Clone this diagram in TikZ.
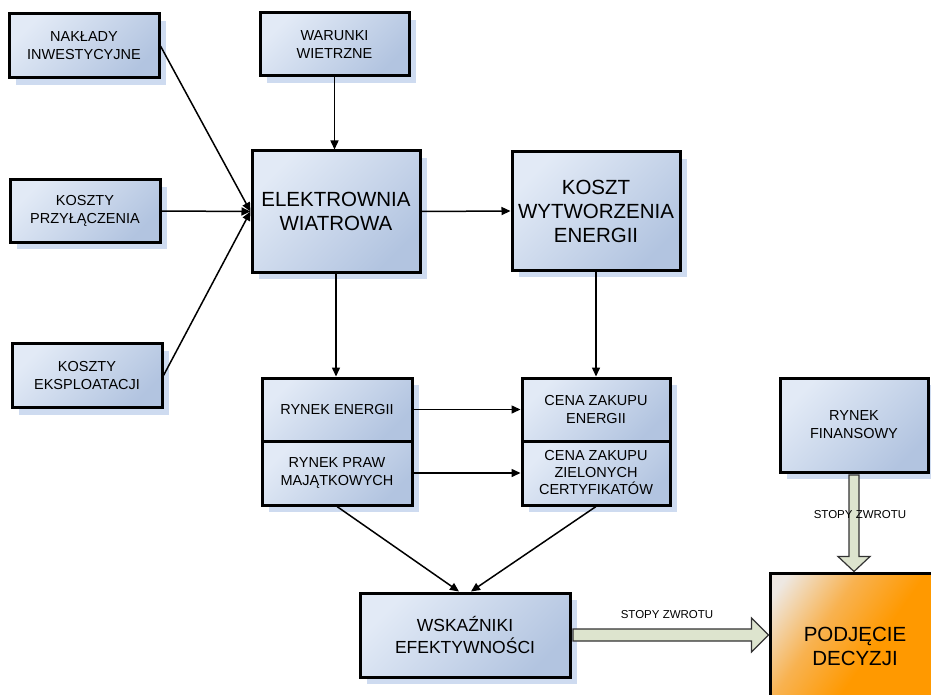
\documentclass[tikz,border=0pt]{standalone}
\usepackage{fontspec}
\setmainfont{Liberation Sans}
\usetikzlibrary{arrows.meta,shadows,calc}
\definecolor{boxlight}{RGB}{226,234,246}
\definecolor{boxdark}{RGB}{178,196,224}
\definecolor{shadowblue}{RGB}{206,219,240}
\definecolor{fatfill}{RGB}{221,228,206}
\definecolor{orangedark}{RGB}{255,153,0}
\definecolor{orangemid}{RGB}{248,178,80}
\definecolor{orangelight}{RGB}{238,232,226}
\pgfdeclareverticalshading{orangeshade}{100bp}{color(0bp)=(orangedark); color(45bp)=(orangedark); color(62bp)=(orangemid); color(80bp)=(orangelight); color(100bp)=(orangelight)}
\begin{document}
\begin{tikzpicture}[x=1pt,y=-1pt,
  box/.style={draw=black, line width=3pt, rectangle, inner sep=0pt, align=center,
    top color=boxlight, bottom color=boxdark, shading angle=45,
    drop shadow={shadow xshift=7pt, shadow yshift=-7pt, fill=shadowblue, opacity=1}},
  small/.style={font=\fontsize{14.5}{18}\selectfont},
  big/.style={font=\fontsize{20.5}{24}\selectfont},
  mid/.style={font=\fontsize{17.5}{22}\selectfont},
  conn/.style={line width=1.5pt, -{Triangle[length=9pt,width=8pt]}},
  fat/.style={draw=black!80, line width=1.2pt, fill=fatfill, line join=miter},
  lbl/.style={font=\fontsize{11.5}{14}\selectfont, inner sep=0pt}
]
\useasboundingbox (0,0) rectangle (931,695);
\clip (0,0) rectangle (931,695);
\fill[white] (0,0) rectangle (931,695);

\node[box, small, minimum width=150pt, minimum height=64pt] (nak) at (84,46) {NAKŁADY\\INWESTYCYJNE};
\node[box, small, minimum width=149pt, minimum height=63pt] (war) at (334.5,44.5) {WARUNKI\\WIETRZNE};
\node[box, small, minimum width=150pt, minimum height=62pt] (prz) at (85,211) {KOSZTY\\PRZYŁĄCZENIA};
\node[box, small, minimum width=150pt, minimum height=64pt] (eks) at (87,375.5) {KOSZTY\\EKSPLOATACJI};
\node[box, big, minimum width=168pt, minimum height=121pt] (elek) at (336,211.5) {ELEKTROWNIA\\WIATROWA};
\node[box, big, minimum width=168pt, minimum height=118pt] (kwe) at (596,211) {KOSZT\\WYTWORZENIA\\ENERGII};
\node[box, small, minimum width=150pt, minimum height=63pt] (ren) at (337,409.5) {RYNEK ENERGII};
\node[box, small, minimum width=150pt, minimum height=64pt] (rpm) at (337,473) {RYNEK PRAW\\MAJĄTKOWYCH};
\node[box, small, minimum width=148pt, minimum height=63pt] (cze) at (596,409.5) {CENA ZAKUPU\\ENERGII};
\node[box, small, minimum width=148pt, minimum height=64pt, font=\fontsize{14.5}{17}\selectfont] (czz) at (596,473) {CENA ZAKUPU\\ZIELONYCH\\CERTYFIKATÓW};
\node[box, mid, minimum width=210pt, minimum height=84pt] (wsk) at (465,635) {WSKAŹNIKI\\EFEKTYWNOŚCI};
\node[box, small, minimum width=148pt, minimum height=94pt] (rf) at (854,425) {RYNEK\\FINANSOWY};
\node[draw=black, line width=3pt, rectangle, inner sep=0pt, align=center, big,
  minimum width=170pt, minimum height=147pt,
  shading=orangeshade, shading angle=55] (pd) at (855,646.5) {PODJĘCIE\\DECYZJI};

% thin connectors
\draw[conn] (nak.east) -- (elek.west);
\draw[conn] (prz.east) -- (elek.west);
\draw[conn] (eks.east) -- (elek.west);
\draw[conn] (war.south) -- (war.south |- elek.north);
\draw[conn] (elek.east) -- (kwe.west);
\draw[conn] (elek.south) -- (elek.south |- ren.north);
\draw[conn] (kwe.south) -- (kwe.south |- cze.north);
\draw[conn] (ren.east) -- (ren.east -| cze.west);
\draw[conn] (rpm.east) -- (rpm.east -| czz.west);
\draw[conn] (rpm.south) -- ($(wsk.north)+(-6,0)$);
\draw[conn] (czz.south) -- ($(wsk.north)+(6,0)$);

% fat arrows
\coordinate (t1) at (pd.west |- wsk.east);
\draw[fat] ($(wsk.east)+(1.5,-6)$) -- ($(t1)+(-17,-6)$) -- ($(t1)+(-17,-17)$) -- (t1)
  -- ($(t1)+(-17,17)$) -- ($(t1)+(-17,6)$) -- ($(wsk.east)+(1.5,6)$) -- cycle;
\node[lbl] (l1) at (667,615) {STOPY ZWROTU};

\coordinate (t2) at (rf.south |- pd.north);
\draw[fat] ($(rf.south)+(-5,1.5)$) -- ($(t2)+(-5,-15)$) -- ($(t2)+(-16,-15)$) -- (t2)
  -- ($(t2)+(16,-15)$) -- ($(t2)+(5,-15)$) -- ($(rf.south)+(5,1.5)$) -- cycle;
\node[lbl] (l2) at (860,515) {STOPY ZWROTU};
\end{tikzpicture}
\end{document}
